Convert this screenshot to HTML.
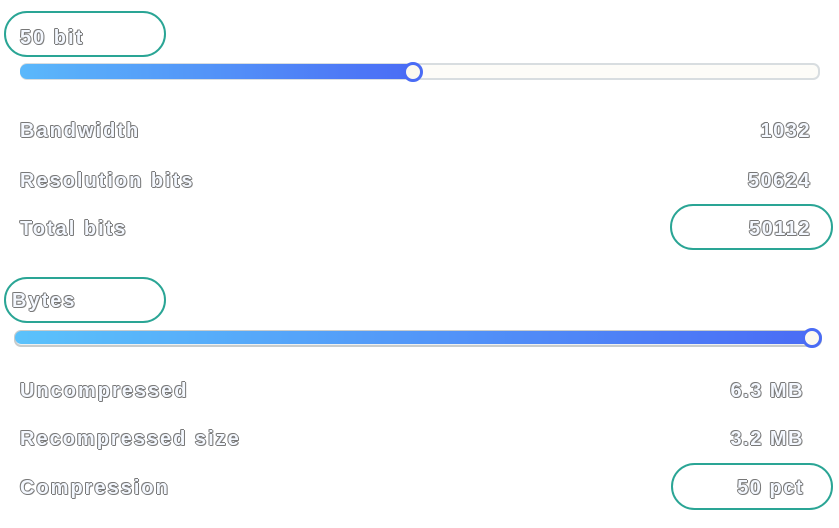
<!DOCTYPE html>
<html><head><style>
body{margin:0;width:839px;height:528px;background:#fff;position:relative;overflow:hidden;font-family:"Liberation Sans",sans-serif}
.t{position:absolute;font-size:20px;font-weight:bold;color:#f4f8ff;line-height:22px;letter-spacing:2px;
text-shadow:1px 0 0 #777,-1px 0 0 #777,0 1px 0 #777,0 -1px 0 #777,1px 1px 0 #999,-1px -1px 0 #999;white-space:nowrap}
.r{text-align:right;letter-spacing:1.5px}
.pill{position:absolute;border:2.5px solid #2aa595;border-radius:24px;box-sizing:border-box}
.track{position:absolute;height:14px;border-radius:7px;box-sizing:border-box}
.thumb{position:absolute;width:20px;height:20px;border-radius:50%;background:#fbf9f0;border:3px solid #4a6cf5;box-sizing:border-box}
</style></head><body>
<div class="pill" style="left:4px;top:11px;width:162px;height:46px"></div>
<div class="t" style="left:20px;top:27px">50 bit</div>
<div class="track" style="left:20px;top:63px;width:800px;height:17px;background:#fdfcf8;border:2px solid #d8dde0"></div>
<div class="track" style="left:20px;top:64px;width:395px;height:15px;background:linear-gradient(90deg,#5bb8fb,#4a6cf5)"></div>
<div class="thumb" style="left:403px;top:62px"></div>
<div class="t" style="left:20px;top:120px">Bandwidth</div>
<div class="t r" style="right:28px;top:120px">1032</div>
<div class="t" style="left:20px;top:170px">Resolution bits</div>
<div class="t r" style="right:28px;top:170px">50624</div>
<div class="t" style="left:20px;top:218px">Total bits</div>
<div class="t r" style="right:28px;top:218px">50112</div>
<div class="pill" style="left:670px;top:204px;width:163px;height:46px"></div>

<div class="pill" style="left:4px;top:277px;width:162px;height:46px"></div>
<div class="t" style="left:12px;top:290px">Bytes</div>
<div class="track" style="left:14px;top:330px;width:808px;height:17px;background:#eef0ef;border:2px solid #c8cccc"></div>
<div class="track" style="left:15px;top:331px;width:800px;height:13px;background:linear-gradient(90deg,#5bc2fb,#4a6cf5)"></div>
<div class="thumb" style="left:802px;top:328px"></div>
<div class="t" style="left:20px;top:380px">Uncompressed</div>
<div class="t r" style="right:35px;top:380px">6.3 MB</div>
<div class="t" style="left:20px;top:428px">Recompressed size</div>
<div class="t r" style="right:35px;top:428px">3.2 MB</div>
<div class="t" style="left:20px;top:477px">Compression</div>
<div class="t r" style="right:35px;top:477px">50 pct</div>
<div class="pill" style="left:671px;top:463px;width:162px;height:47px"></div>
</body></html>
